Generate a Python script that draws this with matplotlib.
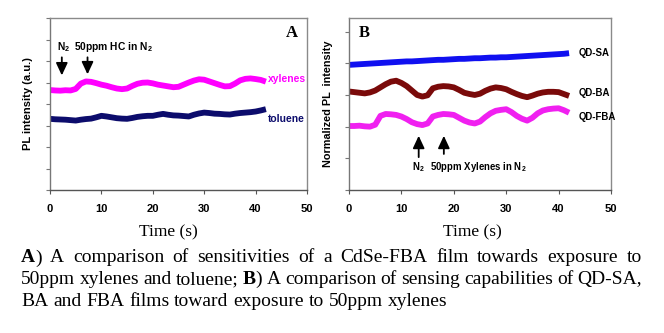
import matplotlib
matplotlib.use("Agg")
import matplotlib.pyplot as plt
import numpy as np

plt.rcParams['font.family'] = ['Liberation Sans', 'DejaVu Sans']
plt.rcParams['mathtext.fontset'] = 'custom'
plt.rcParams['mathtext.rm'] = 'Liberation Sans:bold'
plt.rcParams['mathtext.it'] = 'Liberation Sans:bold'

# time axis (s), one reading per second
t = list(range(0, 43))

# panel A
xylenes = [4.65, 4.63, 4.62, 4.64, 4.63, 4.70, 4.95, 5.05, 5.03, 4.97,
           4.90, 4.85, 4.78, 4.72, 4.69, 4.72, 4.84, 4.94, 4.99, 5.00,
           4.96, 4.90, 4.86, 4.82, 4.78, 4.80, 4.90, 5.00, 5.09, 5.15,
           5.13, 5.05, 4.97, 4.89, 4.82, 4.83, 4.95, 5.10, 5.17, 5.19,
           5.16, 5.12, 5.04]
toluene = [3.31, 3.29, 3.28, 3.27, 3.25, 3.23, 3.27, 3.30, 3.32, 3.38,
           3.45, 3.42, 3.38, 3.34, 3.32, 3.31, 3.35, 3.40, 3.43, 3.45,
           3.45, 3.50, 3.54, 3.50, 3.47, 3.46, 3.44, 3.42, 3.50, 3.56,
           3.60, 3.58, 3.55, 3.54, 3.52, 3.51, 3.55, 3.58, 3.60, 3.62,
           3.65, 3.70, 3.76]

# panel B
qd_sa = [3.95, 3.96, 3.97, 3.98, 3.99, 4.00, 4.01, 4.02, 4.03, 4.04,
         4.05, 4.06, 4.06, 4.07, 4.08, 4.09, 4.10, 4.11, 4.11, 4.12,
         4.13, 4.14, 4.14, 4.15, 4.16, 4.16, 4.17, 4.18, 4.18, 4.19,
         4.19, 4.20, 4.21, 4.22, 4.23, 4.24, 4.25, 4.26, 4.27, 4.28,
         4.29, 4.30, 4.32]
qd_ba = [3.11, 3.09, 3.07, 3.05, 3.08, 3.14, 3.24, 3.34, 3.42, 3.45,
         3.38, 3.28, 3.14, 3.00, 2.95, 2.99, 3.21, 3.26, 3.28, 3.27,
         3.24, 3.16, 3.07, 3.03, 3.00, 3.04, 3.13, 3.20, 3.24, 3.22,
         3.18, 3.10, 3.03, 2.97, 2.93, 2.98, 3.04, 3.08, 3.10, 3.10,
         3.09, 3.03, 2.97]
qd_fba = [2.02, 2.02, 2.03, 2.01, 2.00, 2.06, 2.34, 2.40, 2.39, 2.37,
          2.32, 2.24, 2.14, 2.08, 2.05, 2.10, 2.32, 2.37, 2.40, 2.39,
          2.37, 2.28, 2.19, 2.13, 2.10, 2.16, 2.30, 2.42, 2.50, 2.53,
          2.55, 2.46, 2.34, 2.25, 2.19, 2.28, 2.42, 2.51, 2.55, 2.57,
          2.58, 2.52, 2.44]

caption = [
    [[("A", True), (")", False)], [("A", False)], [("comparison", False)], [("of", False)],
     [("sensitivities", False)], [("of", False)], [("a", False)], [("CdSe-FBA", False)],
     [("film", False)], [("towards", False)], [("exposure", False)], [("to", False)]],
    [[("50ppm", False)], [("xylenes", False)], [("and", False)], [("toluene;", False)],
     [("B", True), (")", False)], [("A", False)], [("comparison", False)], [("of", False)],
     [("sensing", False)], [("capabilities", False)], [("of", False)], [("QD-SA,", False)]],
    [[("BA", False)], [("and", False)], [("FBA", False)], [("films", False)], [("toward", False)],
     [("exposure", False)], [("to", False)], [("50ppm", False)], [("xylenes", False)]],
]

W, H = 664, 333
fig = plt.figure(figsize=(W / 100, H / 100), dpi=100)
axA = fig.add_axes([50 / W, 1 - 190 / H, 257 / W, 172 / H])
axB = fig.add_axes([349 / W, 1 - 190 / H, 262 / W, 172 / H])

lw = 4.2
axA.plot(t, xylenes, color='#ff00ff', lw=lw, solid_capstyle='butt')
axA.plot(t, toluene, color='#0c0c6c', lw=lw, solid_capstyle='butt')
axB.plot(t, qd_sa, color='#1010f0', lw=lw, solid_capstyle='butt')
axB.plot(t, qd_ba, color='#7a0a0a', lw=lw, solid_capstyle='butt')
axB.plot(t, qd_fba, color='#f020f0', lw=lw, solid_capstyle='butt')

for ax in (axA, axB):
    ax.set_xlim(0, 50)
    ax.set_xticks([0, 10, 20, 30, 40, 50])
    ax.tick_params(axis='x', labelsize=8, length=3, width=0.8, pad=7, colors='#555555', labelcolor='black')
    ax.tick_params(axis='y', labelleft=False, length=3, width=0.8, colors='#777777')
    for lab in ax.get_xticklabels():
        lab.set_fontweight('bold')
    for s in ax.spines.values():
        s.set_color('#8a8a8a')
        s.set_linewidth(1.0)
    ax.spines['bottom'].set_color('#555555')
    ax.spines['left'].set_color('#777777')

axA.set_ylim(0, 8)
axA.set_yticks(range(0, 9))
axB.set_ylim(0, 5.43)
axB.set_yticks(range(0, 6))

axA.set_ylabel("PL intensity (a.u.)", fontsize=8, fontweight='bold')
axA.yaxis.set_label_coords(-0.066, 0.5)
axB.set_ylabel("Normalized PL  intensity", fontsize=7.8, fontweight='bold')
axB.yaxis.set_label_coords(-0.061, 0.5)

# panel A annotations
axA.text(47, 7.3, "A", family='Liberation Serif', fontweight='bold', fontsize=12, ha='center', va='center')
arrow = dict(arrowstyle='-|>,head_width=0.35,head_length=0.75', color='black', lw=1.3)
axA.annotate("", xy=(2.3, 5.2), xytext=(2.3, 6.3), arrowprops=arrow)
axA.annotate("", xy=(7.3, 5.25), xytext=(7.3, 6.3), arrowprops=arrow)
axA.text(1.3, 6.65, r"N$_2$", fontsize=7.4, fontweight='bold', va='center')
axA.text(4.6, 6.65, r"50ppm HC in N$_2$", fontsize=7.4, fontweight='bold', va='center')
axA.text(42.4, xylenes[-1] + 0.1, "xylenes", color='#ff00ff', fontsize=7.4, fontweight='bold', va='center')
axA.text(42.4, 3.3, "toluene", color='#0c0c6c', fontsize=7.4, fontweight='bold', va='center')

# panel B annotations
axB.text(2.9, 4.95, "B", family='Liberation Serif', fontweight='bold', fontsize=12, ha='center', va='center')
axB.annotate("", xy=(13.3, 1.8), xytext=(13.3, 0.95), arrowprops=arrow)
axB.annotate("", xy=(18.1, 1.8), xytext=(18.1, 1.05), arrowprops=arrow)
axB.text(13.3, 0.72, r"N$_2$", fontsize=6.9, fontweight='bold', ha='center', va='center')
axB.text(15.4, 0.72, r"50ppm Xylenes in N$_2$", fontsize=6.9, fontweight='bold', va='center')
axB.text(43.8, 4.31, "QD-SA", fontsize=6.9, fontweight='bold', va='center')
axB.text(43.8, 3.07, "QD-BA", fontsize=6.9, fontweight='bold', va='center')
axB.text(43.8, 2.31, "QD-FBA", fontsize=6.9, fontweight='bold', va='center')

fig.text(168 / W, 1 - 232 / H, "Time (s)", family='Liberation Serif', fontsize=12.5, ha='center', va='center')
fig.text(472 / W, 1 - 232 / H, "Time (s)", family='Liberation Serif', fontsize=12.5, ha='center', va='center')

# caption, first two lines justified
r = fig.canvas.get_renderer()
x0, x1 = 21, 642
for i, words in enumerate(caption):
    y = 1 - (258 + 21.5 * i) / H
    pieces, widths = [], []
    for w in words:
        ps, tw = [], 0
        for s, b in w:
            tx = fig.text(0, y, s, family='Liberation Serif', fontsize=14,
                          fontweight='bold' if b else 'normal', va='center')
            bw = tx.get_window_extent(r).width
            ps.append((tx, bw))
            tw += bw
        pieces.append(ps)
        widths.append(tw)
    if i < 2:
        gap = (x1 - x0 - sum(widths)) / (len(words) - 1)
    else:
        gap = 4.8
    x = x0
    for ps in pieces:
        for tx, bw in ps:
            tx.set_x(x / W)
            x += bw
        x += gap

fig.savefig("out.png", dpi=100)
